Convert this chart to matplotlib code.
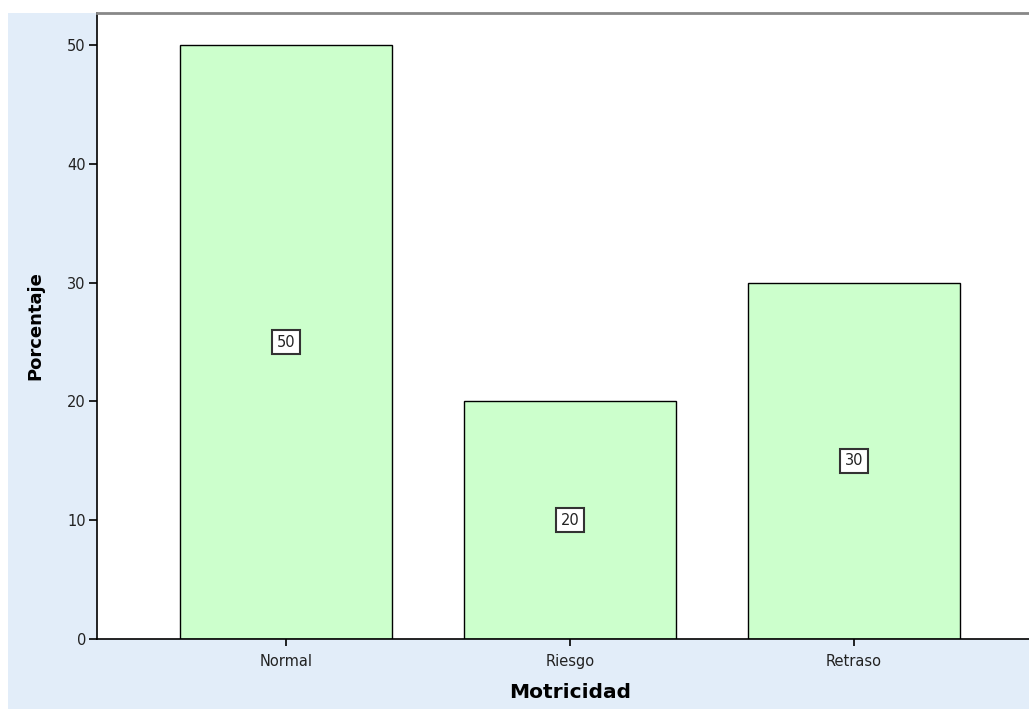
import matplotlib
matplotlib.use("Agg")
import matplotlib.pyplot as plt
from matplotlib.patches import Rectangle

categories = ["Normal", "Riesgo", "Retraso"]
percentages = [50, 20, 30]
yticks = [0, 10, 20, 30, 40, 50]

W, H = 1029, 709
fig = plt.figure(figsize=(W / 100, H / 100), dpi=100, facecolor="white")

# light blue chart frame
fig.patches.append(Rectangle((8 / W, 0), 1.0, (H - 13) / H, transform=fig.transFigure,
                             facecolor="#E2EDF9", edgecolor="none", zorder=-10))

left, right, top, bottom = 97, 1043, 13, 639
ax = fig.add_axes([left / W, 1 - bottom / H, (right - left) / W, (bottom - top) / H])
ax.set_zorder(1)
ax.set_facecolor("white")

x = range(len(categories))
bars = ax.bar(x, percentages, width=0.746, color="#CCFFCC", edgecolor="black", linewidth=1.0)

for xi, v in zip(x, percentages):
    ax.text(xi, v / 2, f"{v}", ha="center", va="center", fontsize=10.5, color="#222222",
            bbox=dict(boxstyle="square,pad=0.3", facecolor="white", edgecolor="#333333", linewidth=1.5))

ax.set_xlim(-0.665, 2.665)
ax.set_ylim(0, 52.7)
ax.set_yticks(yticks)
ax.set_xticks(list(x))
ax.set_xticklabels(categories)
ax.tick_params(axis="y", direction="out", length=6, width=1.2, labelsize=10.5, pad=2,
               labelcolor="#222222")
ax.tick_params(axis="x", direction="out", length=5, width=1.2, labelsize=10.5, pad=6,
               labelcolor="#222222")

for side in ("left", "bottom"):
    ax.spines[side].set_color("black")
    ax.spines[side].set_linewidth(1.2)
ax.spines["top"].set_color("#888888")
ax.spines["top"].set_linewidth(2)
ax.spines["right"].set_visible(False)

ax.set_ylabel("Porcentaje", fontsize=13, fontweight="bold")
ax.set_xlabel("Motricidad", fontsize=14.5, fontweight="bold")
ax.yaxis.set_label_coords((35 - left) / (right - left), 0.5)
ax.xaxis.set_label_coords(0.5, -(692 - bottom) / (bottom - top))
ax.xaxis.label.set_va("center")
ax.yaxis.label.set_va("center")

fig.savefig("out.png", dpi=100, facecolor="white")
